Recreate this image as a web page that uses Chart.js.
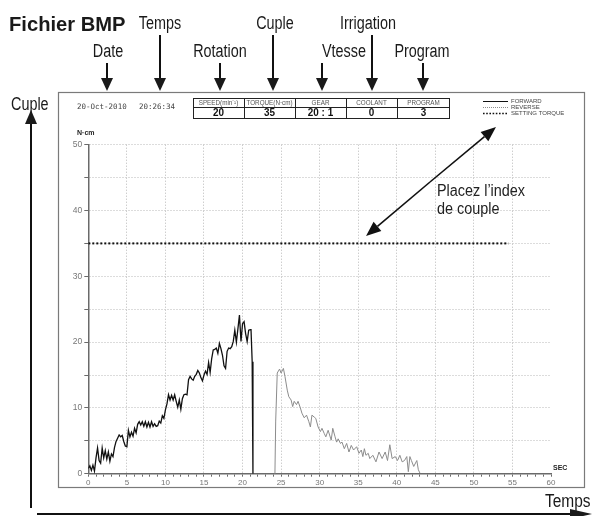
<!DOCTYPE html>
<html>
<head>
<meta charset="utf-8">
<script src="https://cdn.jsdelivr.net/npm/chart.js@4/dist/chart.umd.min.js"></script>
<style>
  html, body { margin: 0; padding: 0; background: #fff; }
  #wrap { width: 596px; height: 516px; position: relative; }
</style>
</head>
<body>
<div id="wrap"><canvas id="c" width="596" height="516"></canvas></div>
<script>
// Torque log: forward run (solid) and reverse run (grey), seconds vs N·cm
const forwardTime = [0.0,0.2,0.4,0.6,0.8,1.0,1.2,1.4,1.6,1.8,2.0,2.2,2.4,2.6,2.8,3.0,3.2,3.4,3.6,3.8,
  4.0,4.2,4.4,4.6,4.8,5.0,5.2,5.4,5.6,5.8,6.0,6.2,6.4,6.6,6.8,7.0,7.2,7.4,7.6,7.8,
  8.0,8.2,8.4,8.6,8.8,9.0,9.2,9.4,9.6,9.8,10.0,10.2,10.4,10.6,10.8,11.0,11.2,11.4,11.6,11.8,
  12.0,12.2,12.4,12.6,12.8,13.0,13.2,13.4,13.6,13.8,14.0,14.2,14.4,14.6,14.8,15.0,15.2,15.4,15.6,15.8,
  16.0,16.2,16.4,16.6,16.8,17.0,17.2,17.4,17.6,17.8,18.0,18.2,18.4,18.6,18.8,19.0,19.2,19.4,19.6,19.8,
  20.0,20.2,20.4,20.6,20.8,21.0,21.1,21.25,21.35];
const forwardTorque = [0.8,1.2,0.5,1.3,0.4,2.4,3.9,2.0,1.6,3.9,2.4,3.5,2.2,3.3,1.9,3.0,2.6,4.0,4.9,5.4,
  5.9,5.6,5.8,4.9,4.2,4.1,6.6,5.6,6.3,5.7,6.9,6.2,7.5,7.9,7.4,7.9,7.2,7.9,7.1,7.8,
  7.1,7.9,7.2,7.6,7.2,7.3,8.0,7.7,8.8,8.4,9.7,10.6,12.0,11.2,11.9,11.2,12.0,11.0,10.1,11.2,
  9.8,11.4,12.0,12.1,12.0,14.3,14.8,14.4,14.2,14.8,15.1,15.7,15.3,14.6,14.1,15.0,15.6,15.1,16.9,15.4,
  17.5,18.8,18.9,19.1,18.3,19.8,19.0,18.0,16.4,16.0,18.6,19.1,19.0,19.3,20.1,21.8,20.0,22.0,24.1,20.1,
  22.8,23.1,21.3,20.1,21.8,21.9,21.9,17.0,0];

const reverseTime = [24.2,24.3,24.5,24.8,25.0,25.3,25.5,25.8,26.0,26.3,26.5,26.7,27.0,27.2,27.5,27.7,28.0,28.3,28.6,28.8,
  29.0,29.3,29.5,29.8,30.1,30.3,30.6,30.8,31.1,31.5,31.7,32.0,32.2,32.4,32.7,32.9,33.2,33.5,33.8,34.1,
  34.4,34.8,35.1,35.4,35.6,35.8,36.0,36.3,36.5,36.9,37.3,37.7,38.1,38.5,38.8,39.1,39.4,39.8,40.1,40.4,
  40.7,41.0,41.3,41.5,41.7,41.9,42.2,42.6,42.8,43.0];
const reverseTorque = [0,8.0,15.3,15.9,15.3,16.0,14.8,12.7,11.7,11.2,10.2,11.0,10.5,11.0,10.0,9.2,8.5,8.9,7.9,7.1,
  8.9,8.6,8.4,7.1,6.4,6.9,6.1,5.6,6.6,5.1,6.9,5.6,4.8,5.3,4.6,4.8,3.8,4.6,3.3,4.3,
  3.6,4.1,3.1,3.6,2.6,3.8,2.8,3.1,2.3,2.8,1.8,3.3,2.3,3.3,2.0,4.4,2.3,2.6,2.0,2.8,
  1.8,2.0,2.6,0.3,2.6,2.0,1.1,2.0,0.6,0.1];

// Header table of the run settings
const tableHeaders = ['SPEED(min\u207B\u00B9)', 'TORQUE(N\u00B7cm)', 'GEAR', 'COOLANT', 'PROGRAM'];
const tableValues = ['20', '35', '20 : 1', '0', '3'];

// Setting torque reference line spans this time range
const settingSpan = [0, 54.5];
const settingTorque = Number(tableValues[1]);

const seriesLabels = ['FORWARD', 'REVERSE', 'SETTING TORQUE'];
const recordDate = '20-Oct-2010';
const recordClock = '20:26:34';

// Callout labels along the top, each pointing to its field
const calloutLabels = ['Date', 'Temps', 'Rotation', 'Cuple', 'Vtesse', 'Irrigation', 'Program'];

const FACE = '"Liberation Sans",Arial,sans-serif';
const GRID = '#b8b8b8';
const AXIS = '#6a6a6a';
const SQUEEZE = 0.8;   // horizontal squeeze for the condensed caption face

function pairs(xs, ys) { return xs.map((x, i) => ({ x: x, y: ys[i] })); }

// condensed caption text: regular face squeezed horizontally
function ctext(ctx, txt, x, y, font, align, sx) {
  ctx.save();
  ctx.font = font;
  ctx.textAlign = align;
  ctx.textBaseline = 'middle';
  ctx.translate(x, y);
  ctx.scale(sx || SQUEEZE, 1);
  ctx.fillText(txt, 0, 0);
  ctx.restore();
}

function arrow(ctx, x1, y1, x2, y2, len, half, lw) {
  const a = Math.atan2(y2 - y1, x2 - x1);
  const bx = x2 - Math.cos(a) * len, by = y2 - Math.sin(a) * len;
  ctx.lineWidth = lw;
  ctx.beginPath(); ctx.moveTo(x1, y1); ctx.lineTo(bx, by); ctx.stroke();
  ctx.beginPath();
  ctx.moveTo(x2, y2);
  ctx.lineTo(bx + Math.sin(a) * half, by - Math.cos(a) * half);
  ctx.lineTo(bx - Math.sin(a) * half, by + Math.cos(a) * half);
  ctx.closePath(); ctx.fill();
}

const decorations = {
  id: 'decorations',
  beforeDraw(chart) {
    const ctx = chart.ctx;
    ctx.save();
    ctx.fillStyle = '#fff';
    ctx.fillRect(0, 0, chart.width, chart.height);
    ctx.restore();
  },
  afterDraw(chart) {
    const ctx = chart.ctx;
    ctx.save();

    // outer frame of the recorder printout
    ctx.strokeStyle = '#7a7a7a'; ctx.lineWidth = 1.2;
    ctx.strokeRect(58.5, 92.5, 526, 395);

    // title
    ctx.fillStyle = '#1a1a1a';
    ctext(ctx, 'Fichier BMP', 9, 25, 'bold 21px ' + FACE, 'left', 0.96);

    // callouts with down arrows
    ctx.strokeStyle = '#111'; ctx.fillStyle = '#1a1a1a';
    const cx = [107, 160, 220, 273, 322, 372, 423];
    const lx = [108, 160, 220, 275, 344, 368, 422];
    cx.forEach((x, i) => {
      const high = i % 2 === 1;
      ctext(ctx, calloutLabels[i], lx[i], high ? 24 : 52, '18px ' + FACE, 'center');
      arrow(ctx, x, high ? 35 : 63, x, 91, 13, 6, 2);
    });

    // axis callouts on the left and bottom
    ctext(ctx, 'Cuple', 11, 105, '18px ' + FACE, 'left');
    arrow(ctx, 31, 508, 31, 110, 14, 6, 2);
    ctext(ctx, 'Temps', 545, 502, '18px ' + FACE, 'left', 0.86);
    arrow(ctx, 37, 514, 592, 514, 22, 5, 2);

    // date / clock stamp
    ctx.fillStyle = '#444';
    ctx.textBaseline = 'middle';
    ctx.font = '7.5px "DejaVu Sans Mono",monospace';
    ctx.textAlign = 'left';
    ctx.fillText(recordDate, 77, 107);
    ctx.fillText(recordClock, 139, 107);

    // settings table
    const colX = [193, 244, 295, 346, 397, 450];
    ctx.strokeStyle = '#222'; ctx.lineWidth = 1;
    ctx.strokeRect(193.5, 98.5, 256, 20);
    ctx.beginPath();
    ctx.moveTo(193.5, 107.5); ctx.lineTo(449.5, 107.5);
    colX.slice(1, 5).forEach(x => { ctx.moveTo(x + 0.5, 98.5); ctx.lineTo(x + 0.5, 118.5); });
    ctx.stroke();
    ctx.textAlign = 'center';
    for (let i = 0; i < 5; i++) {
      const mid = (colX[i] + colX[i + 1]) / 2;
      ctx.fillStyle = '#555';
      ctext(ctx, tableHeaders[i], mid, 103.3, '7px ' + FACE, 'center', 0.9);
      ctx.fillStyle = '#111';
      ctext(ctx, tableValues[i], mid, 113.3, 'bold 11px ' + FACE, 'center', 0.9);
    }

    // legend drawn from the datasets
    const dsets = chart.data.datasets;
    ctx.textAlign = 'left';
    ctx.font = '6px ' + FACE;
    [101, 107, 113].forEach((y, i) => {
      const d = dsets[i];
      ctx.strokeStyle = d.borderColor;
      ctx.lineWidth = i === 2 ? 1.6 : 1;
      ctx.setLineDash(i === 0 ? [] : (i === 1 ? [1, 1] : [1.6, 1.6]));
      ctx.beginPath(); ctx.moveTo(483, y + 0.5); ctx.lineTo(508, y + 0.5); ctx.stroke();
      ctx.setLineDash([]);
      ctx.fillStyle = '#444';
      ctx.fillText(d.label, 511, y + 0.5);
    });

    // unit labels
    ctx.fillStyle = '#222';
    ctx.font = 'bold 7px ' + FACE;
    ctx.fillText('N\u00B7cm', 77, 133);
    ctx.fillText('SEC', 553, 468);

    // note about the torque index
    ctx.fillStyle = '#222';
    ctext(ctx, 'Placez l\u2019index', 437, 192, '16px ' + FACE, 'left', 0.9);
    ctext(ctx, 'de couple', 437, 210, '16px ' + FACE, 'left', 0.9);
    ctx.strokeStyle = '#111'; ctx.fillStyle = '#111';
    arrow(ctx, 430, 182, 366, 236, 15, 6, 1.6);
    arrow(ctx, 430, 182, 496, 127, 15, 6, 1.6);

    ctx.restore();
  }
};

new Chart(document.getElementById('c'), {
  type: 'line',
  data: {
    datasets: [
      {
        label: seriesLabels[0],
        data: pairs(forwardTime, forwardTorque),
        borderColor: '#111', borderWidth: 1.3, pointRadius: 0, tension: 0
      },
      {
        label: seriesLabels[1],
        data: pairs(reverseTime, reverseTorque),
        borderColor: '#8c8c8c', borderWidth: 1, pointRadius: 0, tension: 0
      },
      {
        label: seriesLabels[2],
        data: pairs(settingSpan, [settingTorque, settingTorque]),
        borderColor: '#111', borderWidth: 2, borderDash: [2, 2], pointRadius: 0, tension: 0
      }
    ]
  },
  options: {
    responsive: false,
    animation: false,
    devicePixelRatio: 1,
    layout: { padding: { left: 58, right: 45, top: 144.7, bottom: 29 } },
    plugins: { legend: { display: false }, tooltip: { enabled: false } },
    scales: {
      x: {
        type: 'linear', min: 0, max: 60,
        afterFit(s) { s.height = 13.3; },
        ticks: {
          stepSize: 1, autoSkip: false, maxRotation: 0, padding: 1,
          color: '#777', font: { family: FACE, size: 8 },
          callback: v => (v % 5 === 0 ? String(v) : '')
        },
        grid: {
          color: c => (c.tick && c.tick.value % 5 === 0 && c.tick.value > 0 && c.tick.value < 60) ? GRID : 'rgba(0,0,0,0)',
          tickColor: AXIS, tickLength: 3, lineWidth: 1
        },
        border: { color: AXIS, width: 1.5, dash: [1, 2] }
      },
      y: {
        min: 0, max: 50,
        afterFit(s) { s.width = 30.3; },
        ticks: {
          stepSize: 5, padding: 2,
          color: '#777', font: { family: FACE, size: 8.5 },
          callback: v => (v % 10 === 0 ? String(v) : '')
        },
        grid: {
          color: c => (c.tick && c.tick.value > 0) ? GRID : 'rgba(0,0,0,0)',
          tickColor: AXIS, tickLength: 4, lineWidth: 1
        },
        border: { color: AXIS, width: 1.5, dash: [1, 2] }
      }
    }
  },
  plugins: [decorations]
});
</script>
</body>
</html>
